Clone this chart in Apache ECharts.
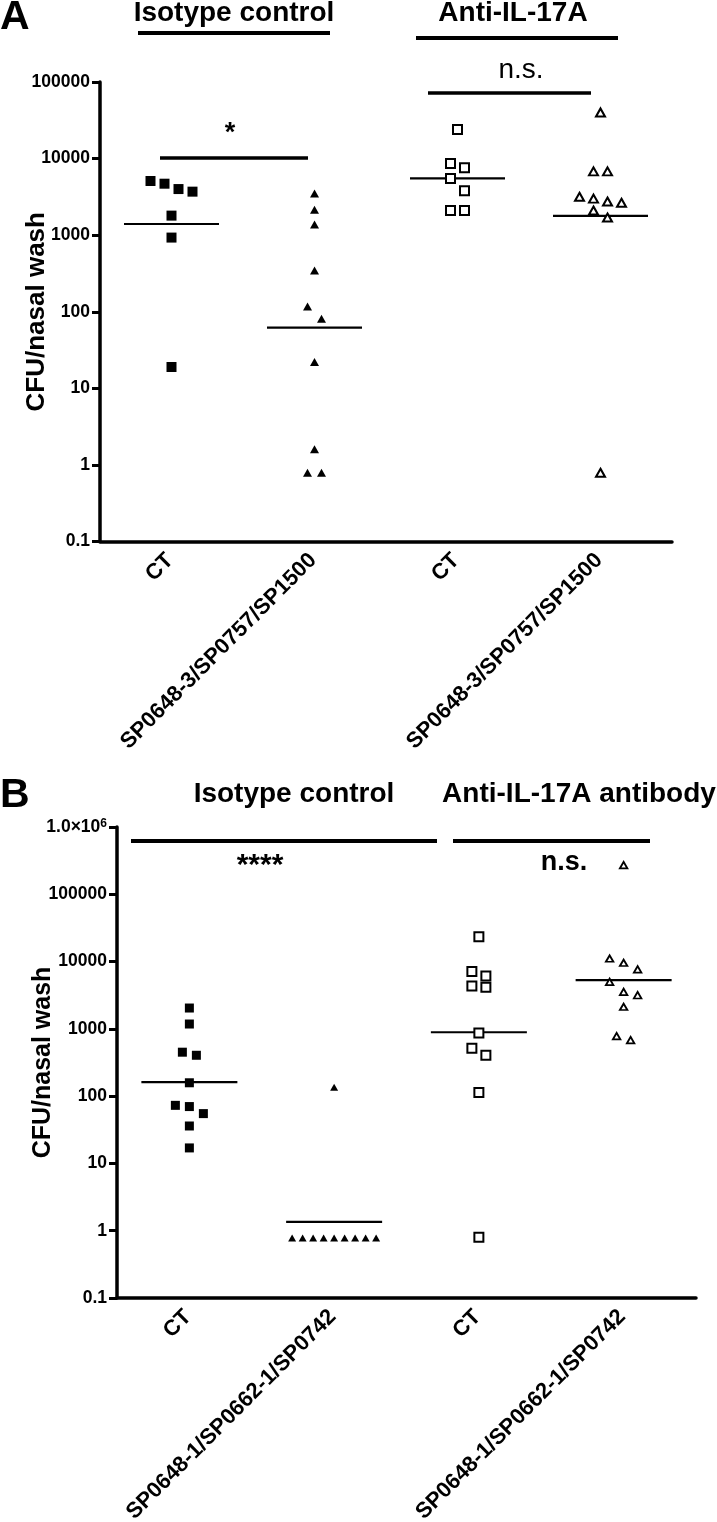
<!DOCTYPE html>
<html><head><meta charset="utf-8">
<script src="https://cdn.jsdelivr.net/npm/echarts@6/dist/echarts.min.js"></script>
<style>html,body{margin:0;padding:0;background:#fff}#c{width:717px;height:1522px}</style>
</head><body><div id="c"></div>
<script>
// ---------- data ----------
const catsA = ['CT', 'SP0648-3/SP0757/SP1500', 'CT', 'SP0648-3/SP0757/SP1500'];
const catsB = ['CT', 'SP0648-1/SP0662-1/SP0742', 'CT', 'SP0648-1/SP0662-1/SP0742'];
const tickLabelsA = ['0.1', '1', '10', '100', '1000', '10000', '100000'];
const tickLabelsB = ['0.1', '1', '10', '100', '1000', '10000', '100000', '{m|1.0×10}{s|6}'];

// Panel A (CFU/nasal wash)
const aIsoCT   = [5100, 4700, 4000, 3700, 1800, 930, 19];
const aIsoVac  = [3500, 2150, 1380, 345, 117, 81, 22, 1.6, 0.79, 0.79];
const aAntiCT  = [24000, 8600, 7600, 5500, 3800, 2100, 2100];
const aAntiVac = [40000, 6800, 6800, 3000, 2750, 2650, 3170, 2100, 1700, 0.79];
const aMeans   = [1400, 62, 5500, 1790];

// Panel B (CFU/nasal wash)
const bIsoCT   = [2040, 1180, 450, 405, 158, 73, 70, 55, 36, 17];
const bIsoVac  = [135, 0.78, 0.78, 0.78, 0.78, 0.78, 0.78, 0.78, 0.78, 0.78];
const bAntiCT  = [23400, 7100, 6100, 4350, 4150, 870, 515, 405, 113, 0.8];
const bAntiVac = [272000, 11100, 9600, 7650, 5000, 3550, 3160, 2130, 780, 680];
const bMeans   = [162, 1.35, 890, 5300];

// ---------- styling ----------
const FONT = '"Liberation Sans", Arial, Helvetica, sans-serif';
const BLACK = '#000';

const panels = [
  { groups: [aIsoCT, aIsoVac, aAntiCT, aAntiVac], means: aMeans, cats: catsA,
    labels: tickLabelsA, max: 100000, nameGap: 50, nameSize: 26,
    grid: { left: 100, top: 82, width: 572, height: 459.5 },
    marks: [
      { symbol: 'rect', size: 10, open: false },
      { symbol: 'triangle', size: [9, 8], open: false },
      { symbol: 'rect', size: 9, open: true, bw: 2 },
      { symbol: 'triangle', size: [9, 8], open: true, bw: 2 }
    ], meanW: 95 },
  { groups: [bIsoCT, bIsoVac, bAntiCT, bAntiVac], means: bMeans, cats: catsB,
    labels: tickLabelsB, max: 1000000, nameGap: 61, nameSize: 25,
    grid: { left: 117, top: 827, width: 579, height: 471 },
    marks: [
      { symbol: 'rect', size: 9, open: false },
      { symbol: 'triangle', size: [8, 7], open: false },
      { symbol: 'rect', size: 9, open: true, bw: 2 },
      { symbol: 'triangle', size: [7.5, 6.5], open: true, bw: 1.8 }
    ], meanW: 96 }
];

function buildOption(offsets) {
  const grid = [], xAxis = [], yAxis = [], series = [];
  panels.forEach((p, pi) => {
    grid.push(Object.assign({ containLabel: false, outerBoundsMode: 'none' }, p.grid));
    xAxis.push({
      type: 'category', gridIndex: pi, data: p.cats, boundaryGap: true,
      axisLine: { show: true, onZero: false, lineStyle: { color: BLACK, width: 3.5 } },
      axisTick: { show: false }, splitLine: { show: false },
      axisLabel: { interval: 0, rotate: 45, color: BLACK, fontFamily: FONT, fontWeight: 'bold',
                   fontSize: 22, margin: 14, padding: [0, 2, 0, 0], hideOverlap: false }
    });
    yAxis.push({
      type: 'log', logBase: 10, gridIndex: pi, min: 0.1, max: p.max,
      splitNumber: p.labels.length - 1,
      axisLine: { show: true, lineStyle: { color: BLACK, width: 3.5 } },
      axisTick: { show: true, length: 8, lineStyle: { color: BLACK, width: 3 } },
      minorTick: { show: false }, splitLine: { show: false },
      axisLabel: {
        color: BLACK, fontFamily: FONT, fontWeight: 'bold', fontSize: 17.5, margin: 10,
        formatter: v => p.labels[Math.round(Math.log10(v)) + 1] || '',
        rich: {
          m: { fontFamily: FONT, fontWeight: 'bold', fontSize: 17.5, color: BLACK },
          s: { fontFamily: FONT, fontWeight: 'bold', fontSize: 12, color: BLACK, verticalAlign: 'top', padding: [0, 0, 7, 0] }
        }
      },
      name: 'CFU/nasal wash', nameLocation: 'middle', nameGap: p.nameGap, nameMoveOverlap: false,
      nameTextStyle: { color: BLACK, fontFamily: FONT, fontWeight: 'bold', fontSize: p.nameSize }
    });
    p.groups.forEach((vals, gi) => {
      const m = p.marks[gi];
      series.push({
        type: 'scatter', xAxisIndex: pi, yAxisIndex: pi, z: 3,
        symbol: m.symbol, symbolSize: m.size, silent: true,
        itemStyle: m.open ? { color: '#fff', borderColor: BLACK, borderWidth: m.bw, opacity: 1 }
                          : { color: BLACK, opacity: 1 },
        data: vals.map((v, i) => ({ value: [gi, v],
          symbolOffset: [offsets ? offsets[pi][gi][i] : 0, 0] }))
      });
    });
    series.push({
      type: 'scatter', xAxisIndex: pi, yAxisIndex: pi, z: 2, silent: true,
      symbol: 'rect', symbolSize: [p.meanW, 2.2],
      itemStyle: { color: BLACK, opacity: 1 },
      data: p.means.map((v, i) => [i, v])
    });
  });

  const T = (x, y, text, size, weight, extra) => Object.assign({
    type: 'text', x, y, silent: true,
    style: { text, fill: BLACK, font: `${weight} ${size}px ${FONT}`, align: 'center', verticalAlign: 'middle' }
  }, extra || {});
  const L = (x1, x2, y, w) => ({ type: 'line', silent: true,
    shape: { x1, y1: y, x2, y2: y }, style: { stroke: BLACK, lineWidth: w } });

  const graphic = [
    // Panel A
    { type: 'text', x: 0, y: 18, silent: true, style: { text: 'A', fill: BLACK, font: `bold 41px ${FONT}`, align: 'left', verticalAlign: 'middle' } },
    T(234, 13, 'Isotype control', 28, 'bold'),
    L(138, 330, 33, 4),
    T(230, 134, '*', 27, 'bold'),
    L(160, 308, 158, 3.5),
    T(513, 13, 'Anti-IL-17A', 28, 'bold'),
    L(416, 618, 38, 4),
    T(521, 70, 'n.s.', 28, 'normal'),
    L(428, 591, 93, 3.5),
    // Panel B
    { type: 'text', x: 0, y: 796, silent: true, style: { text: 'B', fill: BLACK, font: `bold 41px ${FONT}`, align: 'left', verticalAlign: 'middle' } },
    T(294, 794, 'Isotype control', 28, 'bold'),
    T(579, 794, 'Anti-IL-17A antibody', 28, 'bold'),
    L(131, 437, 841, 4),
    L(453, 650, 841, 4),
    T(260, 866, '****', 30, 'bold'),
    T(564, 863, 'n.s.', 27, 'bold')
  ];

  return { animation: false, backgroundColor: '#fff', grid, xAxis, yAxis, series, graphic };
}

// Horizontal spreading of points that share a row (GraphPad-like scatter layout),
// computed from the pixel positions given by the chart's own scales.
function computeOffsets(chart) {
  const res = [];
  let sIdx = 0;
  panels.forEach((p, pi) => {
    const po = [];
    p.groups.forEach((vals, gi) => {
      const pts = vals.map((v, i) => ({ i, py: chart.convertToPixel({ seriesIndex: sIdx }, [gi, v])[1] }));
      pts.sort((a, b) => a.py - b.py || a.i - b.i);
      const off = new Array(vals.length).fill(0);
      const binH = 13.5, spMax = 14, span = 84;
      let k = 0;
      while (k < pts.length) {
        const start = pts[k].py, row = [];
        while (k < pts.length && pts[k].py < start + binH) { row.push(pts[k]); k++; }
        const n = row.length, sp = n > 1 ? Math.min(spMax, span / (n - 1)) : 0;
        row.forEach((pt, j) => { off[pt.i] = (j - (n - 1) / 2) * sp; });
      }
      po.push(off);
      sIdx++;
    });
    sIdx++; // means series
    res.push(po);
  });
  return res;
}

const chart = echarts.init(document.getElementById('c'), null, { renderer: 'canvas' });
chart.setOption(buildOption(null));
chart.setOption(buildOption(computeOffsets(chart)), true);
</script>
</body></html>
